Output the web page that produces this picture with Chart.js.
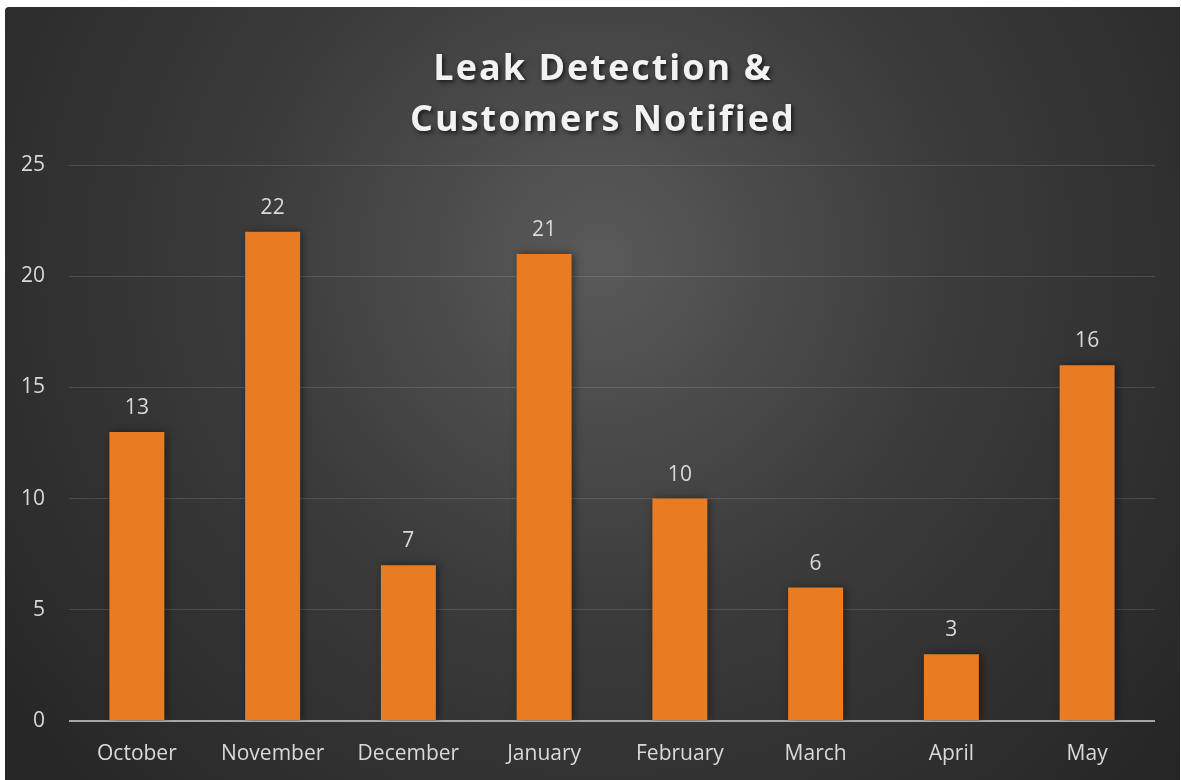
<!DOCTYPE html>
<html>
<head>
<meta charset="utf-8">
<script src="https://cdn.jsdelivr.net/npm/chart.js@4/dist/chart.umd.min.js"></script>
<style>
  html, body { margin: 0; padding: 0; background: #fff; }
  #wrap { width: 1181px; height: 780px; position: relative; }
</style>
</head>
<body>
<div id="wrap"><canvas id="leakChart"></canvas></div>
<script>
// ====== DATA ======
const months = ['October', 'November', 'December', 'January', 'February', 'March', 'April', 'May'];
const leaksNotified = [13, 22, 7, 21, 10, 6, 3, 16];
const yTicks = [0, 5, 10, 15, 20, 25];
const titleLines = ['Leak Detection &', 'Customers Notified'];

const labelColor = '#d9d9d9';
const barColor = '#E97C23';

// Dark radial background (offset like the original frame)
const bgPlugin = {
  id: 'bgPanel',
  beforeDraw(chart) {
    const { ctx, width, height } = chart;
    ctx.save();
    const g = ctx.createRadialGradient(600, 260, 0, 600, 260, 760);
    g.addColorStop(0, '#5a5a5a');
    g.addColorStop(0.45, '#3c3c3c');
    g.addColorStop(1, '#262626');
    ctx.fillStyle = g;
    ctx.beginPath();
    ctx.roundRect(5, 7, width - 6, height - 7, [4, 0, 0, 0]);
    ctx.fill();
    ctx.restore();
  }
};

// Title with letter spacing and soft shadow
const titlePlugin = {
  id: 'spacedTitle',
  afterDraw(chart) {
    const { ctx } = chart;
    ctx.save();
    ctx.font = 'bold 36px "Open Sans"';
    ctx.letterSpacing = '2px';
    ctx.textAlign = 'center';
    ctx.textBaseline = 'alphabetic';
    ctx.fillStyle = '#f2f2f2';
    ctx.shadowColor = 'rgba(0,0,0,0.65)';
    ctx.shadowBlur = 4;
    ctx.shadowOffsetX = 2;
    ctx.shadowOffsetY = 2;
    ctx.fillText(titleLines[0], 603, 80);
    ctx.fillText(titleLines[1], 603, 131);
    ctx.restore();
  }
};

// Shadow behind bars
const barShadow = {
  id: 'barShadow',
  beforeDatasetsDraw(chart) {
    const ctx = chart.ctx;
    ctx.save();
    ctx.shadowColor = 'rgba(0,0,0,0.45)';
    ctx.shadowBlur = 8;
    ctx.shadowOffsetX = 2;
    ctx.shadowOffsetY = 0;
  },
  afterDatasetsDraw(chart) {
    chart.ctx.restore();
  }
};

// Value labels above each bar
const valueLabels = {
  id: 'valueLabels',
  afterDatasetsDraw(chart) {
    const { ctx } = chart;
    const meta = chart.getDatasetMeta(0);
    ctx.save();
    ctx.font = '21px "Open Sans"';
    ctx.fillStyle = labelColor;
    ctx.textAlign = 'center';
    ctx.textBaseline = 'middle';
    meta.data.forEach((bar, i) => {
      ctx.fillText(leaksNotified[i], bar.x, bar.y - 24);
    });
    ctx.restore();
  }
};

new Chart(document.getElementById('leakChart'), {
  type: 'bar',
  data: {
    labels: months,
    datasets: [{
      label: 'Leaks',
      data: leaksNotified,
      backgroundColor: barColor,
      borderWidth: 0,
      barPercentage: 0.405,
      categoryPercentage: 1
    }]
  },
  options: {
    responsive: true,
    maintainAspectRatio: false,
    animation: false,
    layout: { padding: { top: 165, right: 26, left: 0, bottom: 0 } },
    plugins: {
      legend: { display: false },
      title: { display: false },
      tooltip: { enabled: false }
    },
    scales: {
      x: {
        grid: { display: false, drawTicks: false },
        border: { display: false },
        ticks: { color: labelColor, font: { family: 'Open Sans', size: 21 }, padding: 20, maxRotation: 0 },
        afterFit(scale) { scale.height = 59; }
      },
      y: {
        min: 0,
        max: 25,
        afterBuildTicks(scale) { scale.ticks = yTicks.map(v => ({ value: v })); },
        grid: {
          drawTicks: false,
          color: ctx => ctx.tick && ctx.tick.value === 0 ? '#a6a6a6' : 'rgba(255,255,255,0.13)',
          lineWidth: ctx => ctx.tick && ctx.tick.value === 0 ? 2 : 1
        },
        border: { display: false },
        ticks: { color: labelColor, font: { family: 'Open Sans', size: 21 }, padding: 24 },
        afterFit(scale) { scale.width = 69; }
      }
    }
  },
  plugins: [bgPlugin, barShadow, valueLabels, titlePlugin]
});
</script>
</body>
</html>
